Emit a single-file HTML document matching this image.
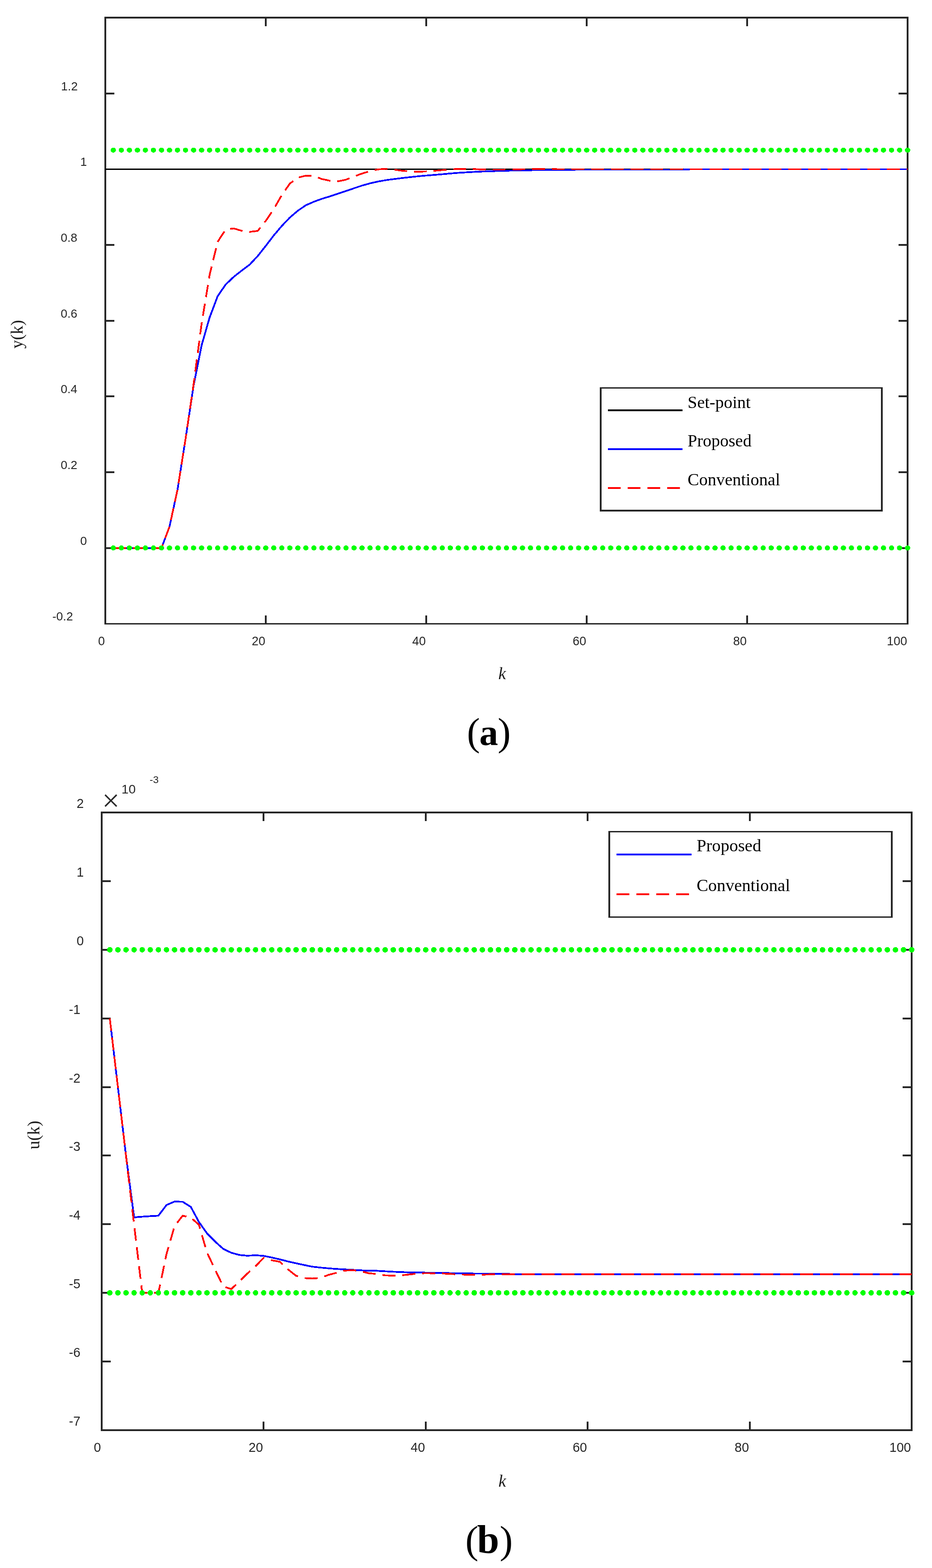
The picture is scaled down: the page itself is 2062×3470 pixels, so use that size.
<!DOCTYPE html>
<html lang="en"><head><meta charset="utf-8"><title>Figure: output y(k) and control input u(k)</title>
<style>html,body{margin:0;padding:0;background:#fff}body{width:2062px;height:3470px;overflow:hidden}svg{display:block}.sans{font-family:"Liberation Sans",Arial,Helvetica,sans-serif;fill:#262626}.serif{font-family:"Liberation Serif","Times New Roman",Times,serif}</style></head><body>
<svg width="2062" height="3470" viewBox="0 0 2062 3470">
<rect x="0" y="0" width="2062" height="3470" fill="#fff"/>
<g id="chart-a">
<g fill="none" stroke="#262626" stroke-linecap="butt">
<path d="M233 37V1382" stroke-width="4"/>
<path d="M2008 37V1382" stroke-width="4"/>
<path d="M231 39H2010" stroke-width="4"/>
<path d="M231 1380.5H2010" stroke-width="3"/>
<path d="M588 1380.5V1362M588 39V58M943 1380.5V1362M943 39V58M1298 1380.5V1362M1298 39V58M1653 1380.5V1362M1653 39V58M233 207H253M2008 207H1988M233 542H253M2008 542H1988M233 710H253M2008 710H1988M233 877H253M2008 877H1988M233 1045H253M2008 1045H1988M233 1213H253M2008 1213H1988" stroke-width="4"/>
<path d="M233 374.5H253M2008 374.5H1988" stroke-width="3"/>
</g>
<path d="M233 374.5H2008" stroke="#000" stroke-width="3" fill="none"/>
<g fill="none" stroke-width="3.9" stroke-linejoin="round" transform="scale(1 0.954)" shape-rendering="crispEdges">
<polyline points="250.75,1271.28 268.5,1271.28 286.25,1271.28 304,1271.28 321.75,1271.28 339.5,1271.28 357.25,1271.28 375,1221.7 392.75,1135.85 410.5,1018.24 428.25,894.44 446,801.15 463.75,736.58 481.5,687.11 499.25,660.17 517,642.35 534.75,627.67 552.5,613.63 570.25,593.92 588,570.34 605.75,546.12 623.5,524.11 641.25,504.61 659,488.78 676.75,476.1 694.5,467.92 712.25,461.11 730,455.56 747.75,449.37 765.5,443.08 783.25,436.69 801,430.5 818.75,425.26 836.5,421.07 854.25,417.82 872,415.3 889.75,413 907.5,410.9 925.25,408.91 943,407.23 960.75,405.77 978.5,404.19 996.25,402.41 1014,400.94 1031.75,399.79 1049.5,398.74 1067.25,397.9 1085,397.27 1102.75,396.65 1120.5,396.02 1138.25,395.6 1156,395.18 1173.75,394.86 1191.5,394.55 1209.25,394.34 1227,394.13 1244.75,393.92 1262.5,393.82 1280.25,393.71 1298,393.61 1315.75,393.61 1333.5,393.61 1351.25,393.61 1369,393.61 1386.75,393.61 1404.5,393.61 1422.25,393.61 1440,393.61 1457.75,393.61 1475.5,393.61 1493.25,393.61 1511,393.61 1528.75,392.56 1546.5,392.56 1564.25,392.56 1582,392.56 1599.75,392.56 1617.5,392.56 1635.25,392.56 1653,392.56 1670.75,392.56 1688.5,392.56 1706.25,392.56 1724,392.56 1741.75,392.56 1759.5,392.56 1777.25,392.56 1795,392.56 1812.75,392.56 1830.5,392.56 1848.25,392.56 1866,392.56 1883.75,392.56 1901.5,392.56 1919.25,392.56 1937,392.56 1954.75,392.56 1972.5,392.56 1990.25,392.56 2008,392.56" stroke="#0000ff"/>
<polyline points="250.75,1271.28 268.5,1271.28 286.25,1271.28 304,1271.28 321.75,1271.28 339.5,1271.28 357.25,1271.28 375,1221.7 392.75,1135.85 410.5,1018.24 428.25,892.03 446,751.57 463.75,637.74 481.5,561.01 499.25,532.29 517,529.87 534.75,535.43 552.5,537.74 570.25,535.64 588,512.37 605.75,484.8 623.5,452.52 641.25,425.89 659,412.05 676.75,407.44 694.5,408.39 712.25,415.3 730,419.29 747.75,420.55 765.5,416.77 783.25,409.33 801,402.62 818.75,397.06 836.5,392.87 854.25,391.61 872,393.5 889.75,396.02 907.5,397.69 925.25,398.32 943,397.69 960.75,396.23 978.5,394.55 996.25,393.08 1014,391.82 1031.75,391.82 1049.5,392.24 1067.25,393.08 1085,393.71 1102.75,393.71 1120.5,393.4 1138.25,393.08 1156,392.66 1173.75,392.24 1191.5,392.03 1209.25,392.03 1227,392.35 1244.75,392.56 1262.5,392.56 1280.25,392.56 1298,392.56 1315.75,392.56 1333.5,392.56 1351.25,392.56 1369,392.56 1386.75,392.56 1404.5,392.56 1422.25,392.56 1440,392.56 1457.75,392.56 1475.5,392.56 1493.25,392.56 1511,392.56 1528.75,392.56 1546.5,392.56 1564.25,392.56 1582,392.56 1599.75,392.56 1617.5,392.56 1635.25,392.56 1653,392.56 1670.75,392.56 1688.5,392.56 1706.25,392.56 1724,392.56 1741.75,392.56 1759.5,392.56 1777.25,392.56 1795,392.56 1812.75,392.56 1830.5,392.56 1848.25,392.56 1866,392.56 1883.75,392.56 1901.5,392.56 1919.25,392.56 1937,392.56 1954.75,392.56 1972.5,392.56 1990.25,392.56 2008,392.56" stroke="#ff0000" stroke-dasharray="28.4 15.22"/>
</g>
<path transform="scale(1 0.93)" d="M250.75 357.29H2008.01" fill="none" stroke="#00ff00" stroke-width="11.8" stroke-linecap="round" stroke-dasharray="0 17.7500" shape-rendering="crispEdges"/>
<path transform="scale(1 0.93)" d="M250.75 1303.87H2008.01" fill="none" stroke="#00ff00" stroke-width="11.8" stroke-linecap="round" stroke-dasharray="0 17.7500" shape-rendering="crispEdges"/>
<g class="sans" font-size="26.6">
<text x="135" y="199.5">1.2</text>
<text x="177.6" y="366.5">1</text>
<text x="134.2" y="534.5">0.8</text>
<text x="134.2" y="702.5">0.6</text>
<text x="134.2" y="869.5">0.4</text>
<text x="134.2" y="1037.5">0.2</text>
<text x="177.6" y="1205.5">0</text>
<text x="115.7" y="1372.5">-0.2</text>
</g>
<g class="sans" font-size="27" text-anchor="end">
<text x="232" y="1428.1">0</text>
<text x="587" y="1428.1">20</text>
<text x="942" y="1428.1">40</text>
<text x="1297" y="1428.1">60</text>
<text x="1652" y="1428.1">80</text>
<text x="2007" y="1428.1">100</text>
</g>
<text class="serif" font-size="38" fill="#1a1a1a" transform="translate(49.9 771.5) rotate(-90)">y(k)</text>
<text class="serif" font-size="38" font-style="italic" fill="#1a1a1a" x="1102.5" y="1503">k</text>
<g id="legend-a">
<rect x="1327" y="857" width="626" height="275" fill="#fff"/>
<path fill="#262626" d="M1327 857h4v275h-4z M1949 857h4v275h-4z M1327 857h626v3h-626z M1327 1128h626v4h-626z"/>
<path d="M1345 908H1510" stroke="#000" stroke-width="4" fill="none"/>
<path d="M1345 994H1510" stroke="#0000ff" stroke-width="4" fill="none"/>
<path d="M1345 1080H1510" stroke="#ff0000" stroke-width="4" fill="none" stroke-dasharray="28.2 15.5"/>
<g class="serif" font-size="38" fill="#000">
<text x="1521.3" y="902.6">Set-point</text>
<text x="1521.3" y="988.1">Proposed</text>
<text x="1521.3" y="1074">Conventional</text>
</g></g>
<text class="serif" fill="#000" y="1648.6"><tspan x="1033" font-size="87">(</tspan><tspan x="1060.4" font-size="83" font-weight="bold">a</tspan><tspan x="1101" font-size="87">)</tspan></text>
</g>
<g id="chart-b">
<g fill="none" stroke="#262626" stroke-linecap="butt">
<path d="M225 1796V3167" stroke-width="4"/>
<path d="M2017 1796V3167" stroke-width="4"/>
<path d="M223 1798H2019" stroke-width="4"/>
<path d="M223 3165H2019" stroke-width="4"/>
<path d="M583 3165V3146M583 1798V1817M942 3165V3146M942 1798V1817M1300 3165V3146M1300 1798V1817M1659 3165V3146M1659 1798V1817M225 1950H245M2017 1950H1997M225 2102H245M2017 2102H1997M225 2254H245M2017 2254H1997M225 2406H245M2017 2406H1997M225 2557H245M2017 2557H1997M225 2709H245M2017 2709H1997M225 2861H245M2017 2861H1997M225 3013H245M2017 3013H1997" stroke-width="4"/>
</g>
<g fill="none" stroke-width="3.9" stroke-linejoin="round" transform="scale(1 0.965)" shape-rendering="crispEdges">
<polyline points="242.92,2335.41 260.84,2492.8 278.76,2650.2 296.68,2791.71 314.6,2790.24 332.52,2788.98 350.44,2787.94 368.36,2763.43 386.28,2755.47 404.2,2756.1 422.12,2767.62 440.04,2802.18 457.96,2828.36 475.88,2847.22 493.8,2863.97 511.72,2872.98 529.64,2878.01 547.56,2879.69 565.48,2878.64 583.4,2880.1 601.32,2883.87 619.24,2888.06 637.16,2892.88 655.08,2897.07 673,2901.05 690.92,2904.82 708.84,2906.92 726.76,2908.59 744.68,2910.06 762.6,2911.11 780.52,2912.15 798.44,2913.2 816.36,2914.25 834.28,2914.37 852.2,2915.42 870.12,2916.46 888.04,2917.3 905.96,2917.93 923.88,2918.35 941.8,2918.56 959.72,2918.77 977.64,2919.19 995.56,2919.61 1013.48,2920.03 1031.4,2920.44 1049.32,2920.65 1067.24,2920.86 1085.16,2921.07 1103.08,2921.28 1121,2921.49 1138.92,2921.91 1156.84,2921.91 1174.76,2921.91 1192.68,2921.91 1210.6,2921.91 1228.52,2921.91 1246.44,2921.91 1264.36,2921.91 1282.28,2921.91 1300.2,2921.91 1318.12,2921.91 1336.04,2921.91 1353.96,2921.91 1371.88,2921.91 1389.8,2921.91 1407.72,2921.91 1425.64,2921.91 1443.56,2921.91 1461.48,2921.91 1479.4,2921.91 1497.32,2921.91 1515.24,2921.91 1533.16,2921.91 1551.08,2921.91 1569,2921.91 1586.92,2921.91 1604.84,2921.91 1622.76,2921.91 1640.68,2921.91 1658.6,2921.91 1676.52,2921.91 1694.44,2921.91 1712.36,2921.91 1730.28,2921.91 1748.2,2921.91 1766.12,2921.91 1784.04,2921.91 1801.96,2921.91 1819.88,2921.91 1837.8,2921.91 1855.72,2921.91 1873.64,2921.91 1891.56,2921.91 1909.48,2921.91 1927.4,2921.91 1945.32,2921.91 1963.24,2921.91 1981.16,2921.91 1999.08,2921.91 2017,2921.91" stroke="#0000ff"/>
<polyline points="242.92,2335.41 260.84,2492.8 278.76,2650.2 296.68,2808.29 314.6,2965 332.52,2965 350.44,2965 368.36,2875.91 386.28,2811.61 404.2,2787.94 422.12,2792.33 440.04,2808.46 457.96,2872.35 475.88,2911.53 493.8,2950.28 511.72,2956.14 529.64,2938.55 547.56,2920.32 565.48,2903.77 583.4,2884.5 601.32,2890.16 619.24,2893.72 637.16,2911.11 655.08,2925.77 673,2931.01 690.92,2932.05 708.84,2930.59 726.76,2923.67 744.68,2918.86 762.6,2913.83 780.52,2912.78 798.44,2915.3 816.36,2920.11 834.28,2921.49 852.2,2924.84 870.12,2925.26 888.04,2924.63 905.96,2922.75 923.88,2920.65 941.8,2919.61 959.72,2920.03 977.64,2920.44 995.56,2921.49 1013.48,2922.33 1031.4,2923.17 1049.32,2923.17 1067.24,2923.17 1085.16,2922.54 1103.08,2922.12 1121,2921.91 1138.92,2922.02 1156.84,2922.02 1174.76,2922.02 1192.68,2922.02 1210.6,2922.02 1228.52,2922.02 1246.44,2922.02 1264.36,2922.02 1282.28,2922.02 1300.2,2922.02 1318.12,2922.02 1336.04,2922.02 1353.96,2922.02 1371.88,2922.02 1389.8,2922.02 1407.72,2922.02 1425.64,2922.02 1443.56,2922.02 1461.48,2922.02 1479.4,2922.02 1497.32,2922.02 1515.24,2922.02 1533.16,2922.02 1551.08,2922.02 1569,2922.02 1586.92,2922.02 1604.84,2922.02 1622.76,2922.02 1640.68,2922.02 1658.6,2922.02 1676.52,2922.02 1694.44,2922.02 1712.36,2922.02 1730.28,2922.02 1748.2,2922.02 1766.12,2922.02 1784.04,2922.02 1801.96,2922.02 1819.88,2922.02 1837.8,2922.02 1855.72,2922.02 1873.64,2922.02 1891.56,2922.02 1909.48,2922.02 1927.4,2922.02 1945.32,2922.02 1963.24,2922.02 1981.16,2922.02 1999.08,2922.02 2017,2922.02" stroke="#ff0000" stroke-dasharray="28.8 15.22"/>
</g>
<path transform="scale(1 0.98)" d="M242.92 2144.77H2017.01" fill="none" stroke="#00ff00" stroke-width="12.2" stroke-linecap="round" stroke-dasharray="0 17.9200" shape-rendering="crispEdges"/>
<path transform="scale(1 0.98)" d="M242.92 2919.41H2017.01" fill="none" stroke="#00ff00" stroke-width="12.2" stroke-linecap="round" stroke-dasharray="0 17.9200" shape-rendering="crispEdges"/>
<g class="sans" font-size="28.6">
<text x="169.6" y="1787.8">2</text>
<text x="169.6" y="1939.8">1</text>
<text x="169.6" y="2091.8">0</text>
<text x="152.6" y="2243.8">-1</text>
<text x="152.6" y="2395.8">-2</text>
<text x="152.6" y="2546.8">-3</text>
<text x="152.6" y="2698.8">-4</text>
<text x="152.6" y="2850.8">-5</text>
<text x="152.6" y="3002.8">-6</text>
<text x="152.6" y="3154.8">-7</text>
</g>
<g class="sans" font-size="28.6" text-anchor="end">
<text x="223.5" y="3213.3">0</text>
<text x="581.9" y="3213.3">20</text>
<text x="940.3" y="3213.3">40</text>
<text x="1298.7" y="3213.3">60</text>
<text x="1657.1" y="3213.3">80</text>
<text x="2015.5" y="3213.3">100</text>
</g>
<text font-family="'DejaVu Sans','Liberation Sans',sans-serif" font-weight="200" font-size="52" fill="#262626" stroke="#262626" stroke-width="0.7" x="223.6" y="1788">×</text>
<g class="sans">
<text x="268.7" y="1755.8" font-size="28.4">10</text>
<text x="331" y="1733.2" font-size="22.6">-3</text>
</g>
<text class="serif" font-size="38" fill="#1a1a1a" transform="translate(87.3 2543.5) rotate(-90)">u(k)</text>
<text class="serif" font-size="38" font-style="italic" fill="#1a1a1a" x="1102.7" y="3290">k</text>
<g id="legend-b">
<rect x="1346" y="1839" width="629" height="192" fill="#fff"/>
<path fill="#262626" d="M1346 1839h4v192h-4z M1971 1839h4v192h-4z M1346 1839h629v3h-629z M1346 2028h629v3h-629z"/>
<path d="M1364 1891H1530" stroke="#0000ff" stroke-width="4" fill="none"/>
<path d="M1364 1979H1530" stroke="#ff0000" stroke-width="4" fill="none" stroke-dasharray="28.4 15.6"/>
<g class="serif" font-size="38.4" fill="#000">
<text x="1541.2" y="1884.3">Proposed</text>
<text x="1541.2" y="1972">Conventional</text>
</g></g>
<text class="serif" fill="#000" y="3437"><tspan x="1029.6" font-size="87">(</tspan><tspan x="1055.4" font-size="88" font-weight="bold">b</tspan><tspan x="1105.4" font-size="87">)</tspan></text>
</g>
</svg></body></html>
